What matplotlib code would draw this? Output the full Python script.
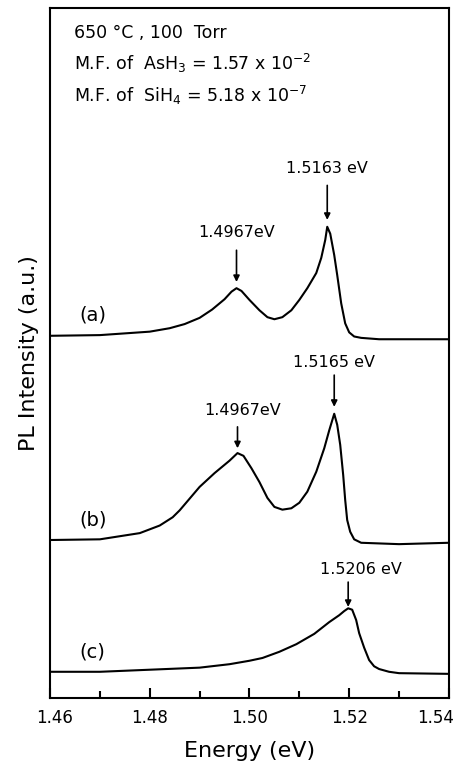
import numpy as np
import matplotlib
matplotlib.use("Agg")
import matplotlib.pyplot as plt
from matplotlib.ticker import MultipleLocator
from matplotlib.transforms import ScaledTranslation

# PL spectra (energy in eV, intensity in a.u. incl. vertical offset)
E_a = [1.4600, 1.4700, 1.4760, 1.4800, 1.4840, 1.4870, 1.4900, 1.4925, 1.4950, 1.4964,
       1.4974, 1.4984, 1.5000, 1.5020, 1.5036, 1.5050, 1.5066, 1.5084, 1.5100, 1.5116,
       1.5134, 1.5144, 1.5152, 1.5156, 1.5162, 1.5170, 1.5176, 1.5184, 1.5192, 1.5200,
       1.5210, 1.5224, 1.5260, 1.5400]
I_a = [5.25, 5.26, 5.29, 5.31, 5.36, 5.42, 5.51, 5.63, 5.78, 5.89,
       5.94, 5.90, 5.77, 5.62, 5.52, 5.49, 5.52, 5.62, 5.77, 5.94,
       6.16, 6.38, 6.64, 6.83, 6.73, 6.42, 6.13, 5.72, 5.43, 5.30,
       5.24, 5.22, 5.20, 5.20]

E_b = [1.4600, 1.4700, 1.4780, 1.4820, 1.4846, 1.4860, 1.4880, 1.4900, 1.4930, 1.4960,
       1.4976, 1.4988, 1.5004, 1.5020, 1.5036, 1.5050, 1.5066, 1.5084, 1.5100, 1.5116,
       1.5134, 1.5150, 1.5160, 1.5170, 1.5176, 1.5182, 1.5188, 1.5192, 1.5196, 1.5202,
       1.5210, 1.5224, 1.5300, 1.5400]
I_b = [2.29, 2.30, 2.39, 2.50, 2.62, 2.72, 2.89, 3.06, 3.26, 3.44,
       3.55, 3.51, 3.33, 3.13, 2.90, 2.77, 2.73, 2.75, 2.83, 2.99,
       3.28, 3.62, 3.88, 4.12, 3.96, 3.67, 3.23, 2.87, 2.58, 2.41,
       2.30, 2.25, 2.23, 2.25]

E_c = [1.4600, 1.4700, 1.4800, 1.4900, 1.4960, 1.5000, 1.5026, 1.5060, 1.5094, 1.5130,
       1.5160, 1.5180, 1.5190, 1.5198, 1.5206, 1.5214, 1.5220, 1.5230, 1.5240, 1.5250,
       1.5260, 1.5280, 1.5300, 1.5400]
I_c = [0.38, 0.38, 0.41, 0.44, 0.49, 0.54, 0.58, 0.67, 0.78, 0.93,
       1.10, 1.20, 1.26, 1.30, 1.28, 1.13, 0.94, 0.73, 0.55, 0.46,
       0.42, 0.38, 0.36, 0.35]

x_ticks = [1.46, 1.48, 1.50, 1.52, 1.54]
x_ticklabels = ["1.46", "1.48", "1.50", "1.52", "1.54"]

# peak labels: text, arrow x, arrow tail y, arrow tip y, label x, label y
peaks = [
    ("1.5163 eV", 1.5156, 7.43, 6.93, 1.5156, 7.68),
    ("1.4967eV", 1.4974, 6.49, 6.03, 1.4974, 6.74),
    ("1.5165 eV", 1.5170, 4.68, 4.22, 1.5170, 4.87),
    ("1.4967eV", 1.4976, 3.93, 3.62, 1.4986, 4.17),
    ("1.5206 eV", 1.5198, 1.68, 1.32, 1.5224, 1.86),
]

fig = plt.figure(figsize=(4.59, 7.70), dpi=100)
ax = fig.add_axes([0.109, 0.0935, 0.869, 0.896])

for E, I in [(E_a, I_a), (E_b, I_b), (E_c, I_c)]:
    ax.plot(E, I, '-', color='k', lw=1.5)

for txt, xa, y0, y1, xt, yt in peaks:
    ax.annotate('', xy=(xa, y1), xytext=(xa, y0),
                arrowprops=dict(arrowstyle='-|>', color='k', lw=1.2,
                                mutation_scale=9, shrinkA=0, shrinkB=0))
    ax.text(xt, yt, txt, ha='center', va='center', fontsize=11.5)

ax.text(0.107, 0.555, "(a)", transform=ax.transAxes, ha='center', va='center', fontsize=14)
ax.text(0.107, 0.258, "(b)", transform=ax.transAxes, ha='center', va='center', fontsize=14)
ax.text(0.105, 0.067, "(c)", transform=ax.transAxes, ha='center', va='center', fontsize=14)

ax.text(0.06, 0.964, "650 °C , 100  Torr", transform=ax.transAxes, va='center', fontsize=12.5)
ax.text(0.06, 0.920, r"M.F. of  AsH$_3$ = 1.57 x 10$^{-2}$", transform=ax.transAxes,
        va='center', fontsize=12.5)
ax.text(0.06, 0.873, r"M.F. of  SiH$_4$ = 5.18 x 10$^{-7}$", transform=ax.transAxes,
        va='center', fontsize=12.5)

ax.set_xlim(1.46, 1.54)
ax.set_ylim(0, 10)
ax.set_xticks(x_ticks, x_ticklabels)
ax.xaxis.set_minor_locator(MultipleLocator(0.01))
ax.tick_params(axis='x', which='both', direction='in', width=1.5, labelsize=12, pad=8)
ax.tick_params(axis='x', which='major', length=7)
ax.tick_params(axis='x', which='minor', length=5)
ax.set_yticks([])
for s in ax.spines.values():
    s.set_linewidth(1.5)

# first/last tick labels nudged inward, as in the original
lab = ax.get_xticklabels()
lab[-1].set_transform(lab[-1].get_transform() + ScaledTranslation(-13 / 100, 0, fig.dpi_scale_trans))
lab[0].set_transform(lab[0].get_transform() + ScaledTranslation(5 / 100, 0, fig.dpi_scale_trans))

ax.set_xlabel("Energy (eV)", fontsize=16, labelpad=10)
ax.set_ylabel("PL Intensity (a.u.)", fontsize=16, labelpad=8)

fig.savefig("out.png", dpi=100)
